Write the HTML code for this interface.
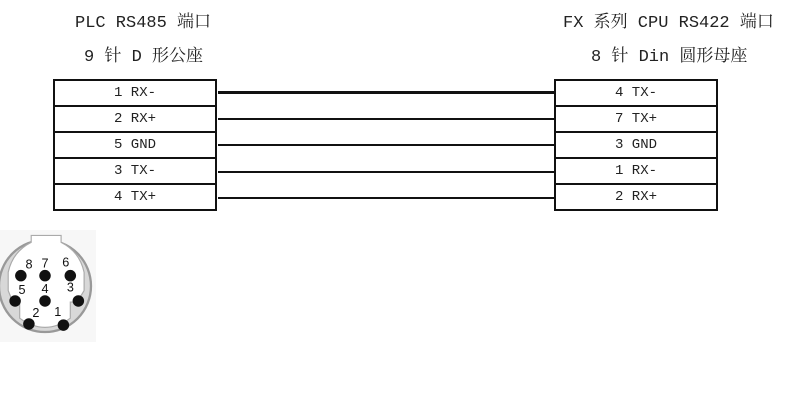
<!DOCTYPE html>
<html><head><meta charset="utf-8"><style>
body{margin:0;width:797px;height:400px;background:#fff;position:relative;overflow:hidden;font-family:"Liberation Mono","Noto Serif CJK SC",monospace;color:#222}
.t{position:absolute;font-size:17px;white-space:nowrap}
.box{position:absolute;border:2px solid #111;width:160px}
.box div{height:24px;border-bottom:2px solid #111;text-align:center;font-size:14px;line-height:24px}
.box div:last-child{border-bottom:none}
.ln{position:absolute;left:218px;width:337px;height:2px;background:#111}
</style></head><body>
<div class="t" style="left:75px;top:7px">PLC RS485 端口</div>
<div class="t" style="left:84px;top:41px">9 针 D 形公座</div>
<div class="t" style="left:563px;top:7px">FX 系列 CPU RS422 端口</div>
<div class="t" style="left:591px;top:41px">8 针 Din 圆形母座</div>
<div class="box" style="left:53px;top:79px"><div>1 RX-</div><div>2 RX+</div><div>5 GND</div><div>3 TX-</div><div>4 TX+</div></div>
<div class="box" style="left:554px;top:79px"><div>4 TX-</div><div>7 TX+</div><div>3 GND</div><div>1 RX-</div><div>2 RX+</div></div>
<div class="ln" style="top:91px;height:3px"></div>
<div class="ln" style="top:118px"></div>
<div class="ln" style="top:144px"></div>
<div class="ln" style="top:171px"></div>
<div class="ln" style="top:197px"></div>
<svg style="position:absolute;left:0;top:230px" width="96" height="112" viewBox="0 0 96 112">
<rect width="96" height="112" fill="#f7f7f7"/>
<g transform="translate(45,56) scale(1.15) translate(-42,-52)">
<circle cx="42" cy="52" r="40" fill="#d8d8d8" stroke="#999" stroke-width="2"/>
<path d="M10 56 L10 40 Q14 22 30 14 L30 8 L56 8 L56 14 Q72 22 76 40 L76 56 L70 66 L64 66 L64 80 Q42 96 20 80 L20 66 L14 66 Z" fill="#fff" stroke="#aaa"/>
<g fill="#111"><circle cx="21" cy="43" r="5"/><circle cx="42" cy="43" r="5"/><circle cx="64" cy="43" r="5"/><circle cx="16" cy="65" r="5"/><circle cx="42" cy="65" r="5"/><circle cx="71" cy="65" r="5"/><circle cx="28" cy="85" r="5"/><circle cx="58" cy="86" r="5"/></g>
<g font-family="Liberation Sans" font-size="11" fill="#111"><text x="25" y="37">8</text><text x="39" y="36">7</text><text x="57" y="35">6</text><text x="19" y="59">5</text><text x="39" y="58">4</text><text x="61" y="57">3</text><text x="31" y="79">2</text><text x="50" y="78">1</text></g>
</g>
</svg>
</body></html>
